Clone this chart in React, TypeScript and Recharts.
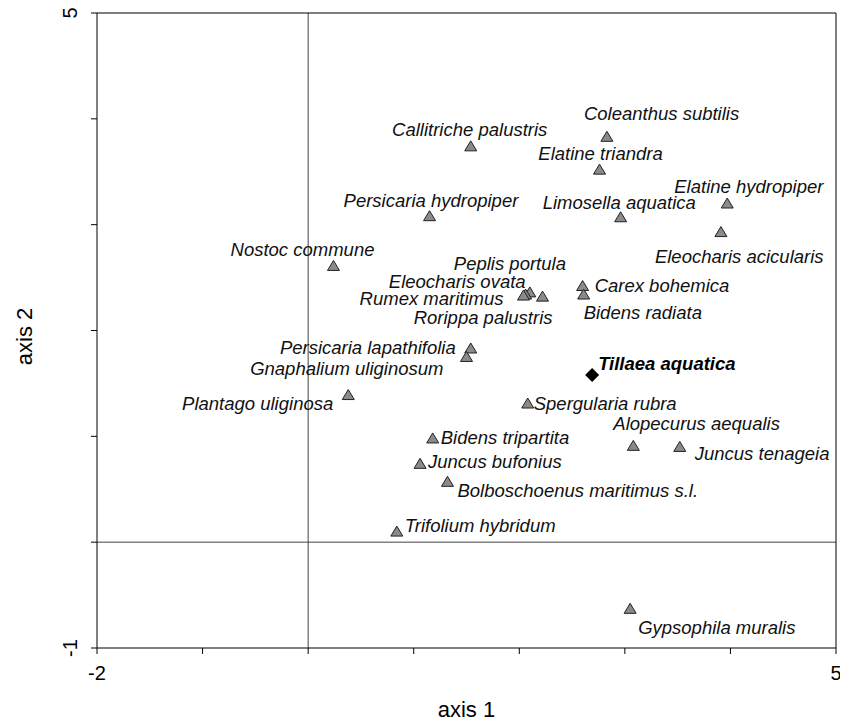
import { ScatterChart, Scatter, XAxis, YAxis, ReferenceLine, Label } from "recharts"

// ordination scores, species in the order they appear top to bottom
const species = [
  "Coleanthus subtilis",
  "Callitriche palustris",
  "Elatine triandra",
  "Elatine hydropiper",
  "Persicaria hydropiper",
  "Limosella aquatica",
  "Eleocharis acicularis",
  "Nostoc commune",
  "Peplis portula",
  "Eleocharis ovata",
  "Rumex maritimus",
  "Rorippa palustris",
  "Carex bohemica",
  "Bidens radiata",
  "Persicaria lapathifolia",
  "Gnaphalium uliginosum",
  "Plantago uliginosa",
  "Spergularia rubra",
  "Bidens tripartita",
  "Alopecurus aequalis",
  "Juncus tenageia",
  "Juncus bufonius",
  "Bolboschoenus maritimus s.l.",
  "Trifolium hybridum",
  "Gypsophila muralis",
]
const axis1 = [
  2.83, 1.54, 2.76, 3.97, 1.15, 2.96, 3.91, 0.24, 2.1, 2.06, 2.04, 2.22, 2.6,
  2.61, 1.54, 1.5, 0.38, 2.08, 1.18, 3.08, 3.52, 1.06, 1.32, 0.84, 3.05,
]
const axis2 = [
  3.83, 3.74, 3.52, 3.2, 3.08, 3.07, 2.93, 2.61, 2.36, 2.34, 2.33, 2.32, 2.42,
  2.34, 1.83, 1.75, 1.39, 1.31, 0.98, 0.91, 0.9, 0.74, 0.57, 0.1, -0.63,
]

const focalName = "Tillaea aquatica"
const focalAxis1 = 2.69
const focalAxis2 = 1.58

const xTicks = [-2, -1, 0, 1, 2, 3, 4, 5]
const yTicks = [-1, 0, 1, 2, 3, 4, 5]
const xTickShown = [-2, 5]
const yTickShown = [-1, 5]

// where each species label sits relative to its marker: dx, dy, anchor
const labelPlace: [number, number, string][] = [
  [-23, -23, "start"],
  [-1, -17, "middle"],
  [1, -16, "middle"],
  [-53, -17, "start"],
  [-86, -16, "start"],
  [-78, -15, "start"],
  [-66, 24, "start"],
  [41, -16, "end"],
  [-76, -29, "start"],
  [0, -13, "end"],
  [-20, 3, "end"],
  [10, 21, "end"],
  [12, -1, "start"],
  [0, 18, "start"],
  [-15, -1, "end"],
  [-23, 12, "end"],
  [-15, 8, "end"],
  [6, 0, "start"],
  [8, -1, "start"],
  [-20, -22, "start"],
  [15, 7, "start"],
  [8, -2, "start"],
  [10, 9, "start"],
  [8, -6, "start"],
  [8, 19, "start"],
]

const rows = species.map((name, i) => ({ name, x: axis1[i], y: axis2[i], place: labelPlace[i] }))
const focal = [{ name: focalName, x: focalAxis1, y: focalAxis2 }]

const sans = "Liberation Sans, Arial, sans-serif"
const labelFont = { fontFamily: sans, fontSize: 18.5, fontStyle: "italic" }

function Triangle(props: any) {
  const { cx, cy, payload } = props
  const [dx, dy, anchor] = payload.place
  return (
    <g>
      <path
        d={`M${cx},${cy - 5.5} L${cx + 6},${cy + 4.5} L${cx - 6},${cy + 4.5} Z`}
        fill="#8a8a8a"
        stroke="#222"
        strokeWidth={1}
      />
      <text x={cx + dx} y={cy + dy} textAnchor={anchor} dominantBaseline="central" fill="#111" {...labelFont}>
        {payload.name}
      </text>
    </g>
  )
}

function Diamond(props: any) {
  const { cx, cy, payload } = props
  return (
    <g>
      <path d={`M${cx},${cy - 7} L${cx + 7},${cy} L${cx},${cy + 7} L${cx - 7},${cy} Z`} fill="#000" />
      <text x={cx + 6} y={cy - 11} dominantBaseline="central" fill="#000" {...labelFont} fontWeight="bold">
        {payload.name}
      </text>
    </g>
  )
}

function YTick(props: any) {
  const { x, y, payload } = props
  if (!yTickShown.includes(payload.value)) return null
  const bx = x - 12
  return (
    <text x={bx} y={y} transform={`rotate(-90, ${bx}, ${y})`} textAnchor="middle" fontSize={20} fill="#000" fontFamily={sans}>
      {payload.value}
    </text>
  )
}

function XTick(props: any) {
  const { x, y, payload } = props
  if (!xTickShown.includes(payload.value)) return null
  return (
    <text x={x} y={y + 24} textAnchor="middle" fontSize={20} fill="#000" fontFamily={sans}>
      {payload.value}
    </text>
  )
}

export default function App() {
  return (
    <ScatterChart width={840} height={715} margin={{ top: 5, right: 12, bottom: 0, left: 0 }}>
      <XAxis
        type="number"
        dataKey="x"
        domain={[-2, 5]}
        ticks={xTicks}
        interval={0}
        height={75}
        tickSize={6}
        stroke="#000"
        tick={<XTick />}
      >
        <Label
          content={({ viewBox }: any) => (
            <text
              x={viewBox.x + viewBox.width / 2}
              y={viewBox.y + 69}
              textAnchor="middle"
              fontSize={22}
              fill="#000"
              fontFamily={sans}
            >
              axis 1
            </text>
          )}
        />
      </XAxis>
      <YAxis
        type="number"
        dataKey="y"
        domain={[-1, 5]}
        ticks={yTicks}
        interval={0}
        width={89}
        tickSize={6}
        stroke="#000"
        tick={<YTick />}
      >
        <Label
          content={({ viewBox }: any) => {
            const cx = 24
            const cy = viewBox.y + viewBox.height / 2 + 6
            return (
              <text
                x={cx}
                y={cy}
                transform={`rotate(-90, ${cx}, ${cy})`}
                textAnchor="middle"
                fontSize={22}
                fill="#000"
                fontFamily={sans}
              >
                axis 2
              </text>
            )
          }}
        />
      </YAxis>
      <ReferenceLine x={0} stroke="#444" strokeWidth={1} />
      <ReferenceLine y={0} stroke="#444" strokeWidth={1} />
      <ReferenceLine x={5} stroke="#000" strokeWidth={1} />
      <ReferenceLine y={5} stroke="#000" strokeWidth={1} />
      <Scatter data={rows} shape={<Triangle />} isAnimationActive={false} />
      <Scatter data={focal} shape={<Diamond />} isAnimationActive={false} />
    </ScatterChart>
  )
}
